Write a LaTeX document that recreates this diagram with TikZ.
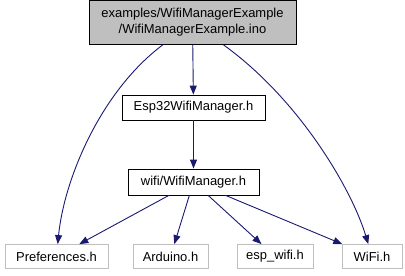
\documentclass[tikz,border=0pt]{standalone}
\usepackage{fontspec}
\setmainfont{Liberation Sans}
\usetikzlibrary{arrows.meta}

\definecolor{edgeblue}{HTML}{191970}
\definecolor{boxgray}{HTML}{BFBFBF}

\begin{document}
\begin{tikzpicture}[x=1bp, y=-1bp, >={Triangle[length=9bp,width=7bp]},
        file/.style={draw=black, line width=0.8bp, inner sep=0pt, align=center,
            minimum height=24bp, font=\fontsize{13}{16}\selectfont},
        extfile/.style={file, draw=boxgray},
        dep/.style={->, draw=edgeblue, line width=0.9bp}]
        \useasboundingbox (0,0) rectangle (405,276);

        % the sketch and the headers it pulls in
        \node[file, fill=boxgray, minimum width=207bp, minimum height=44bp] (ino) at (192.5,22.5)
            {examples/WifiManagerExample\\/WifiManagerExample.ino};
        \node[file, minimum width=143bp, minimum height=25bp] (esp32) at (193.5,107.5) {Esp32WifiManager.h};
        \node[file, minimum width=131bp, minimum height=26bp] (wm) at (193.5,182) {wifi/WifiManager.h};

        % system headers, bottom row
        \node[extfile, minimum width=103bp] (pref) at (56.5,256.5) {Preferences.h};
        \node[extfile, minimum width=75bp] (arduino) at (170.5,256.5) {Arduino.h};
        \node[extfile, minimum width=76bp] (espwifi) at (275,256.5) {esp\_wifi.h};
        \node[extfile, minimum width=60bp] (wifi) at (372,256.5) {WiFi.h};

        \draw[dep] (ino) -- (esp32);
        \draw[dep] (ino) .. controls (100,92) and (64,180) .. (pref);
        \draw[dep] (ino) .. controls (300,100) and (352,190) .. (wifi);

        \draw[dep] (esp32) -- (wm);

        \draw[dep] (wm) -- (pref);
        \draw[dep] (wm) -- (arduino);
        \draw[dep] (wm) -- (espwifi);
        \draw[dep] (wm) -- (wifi);
      \end{tikzpicture}
\end{document}
